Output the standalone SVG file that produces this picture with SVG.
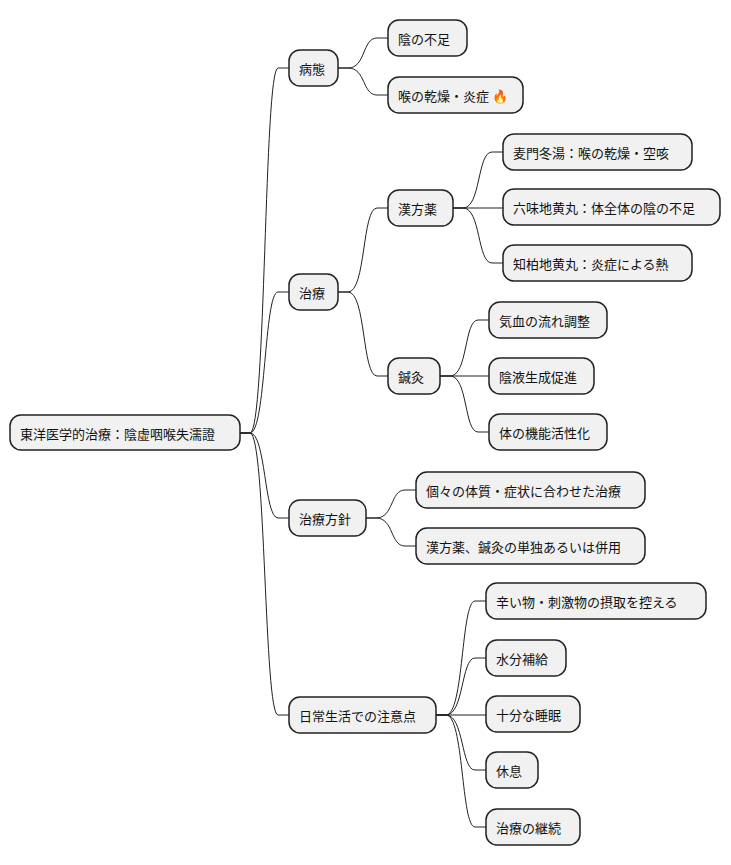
<svg xmlns="http://www.w3.org/2000/svg" width="731" height="865" viewBox="0 0 731 865">
<style>
rect{fill:#f1f1f1;stroke:#222;stroke-width:1.5}
text{font-family:"Noto Sans CJK JP","Noto Sans",sans-serif;font-size:13px;fill:#111;dominant-baseline:central}
#edges path{fill:none;stroke:#222;stroke-width:1}
</style>
<rect x="0" y="0" width="731" height="865" style="fill:#fff;stroke:none"/>
<g id="edges">
<path d="M240,433 H250 C266,433 264,68 278,68 H289"/>
<path d="M240,433 H250 C266,433 264,292 278,292 H289"/>
<path d="M240,433 H250 C266,433 264,518 278,518 H289"/>
<path d="M240,433 H250 C266,433 264,715 278,715 H289"/>
<path d="M338,68 H348 C366,68 362,38 377,38 H388"/>
<path d="M338,68 H348 C366,68 362,95 377,95 H388"/>
<path d="M338,292 H348 C366,292 362,208 377,208 H388"/>
<path d="M338,292 H348 C366,292 362,376 377,376 H388"/>
<path d="M453,208 H463 C481,208 477,152 492,152 H503"/>
<path d="M453,208 H503"/>
<path d="M453,208 H463 C481,208 477,263 492,263 H503"/>
<path d="M440,376 H450 C468,376 464,320 478,320 H489"/>
<path d="M440,376 H489"/>
<path d="M440,376 H450 C468,376 464,432 478,432 H489"/>
<path d="M366,518 H376 C394,518 390,490 405,490 H416"/>
<path d="M366,518 H376 C394,518 390,546 405,546 H416"/>
<path d="M436,715 H446 C464,715 461,601 475,601 H486"/>
<path d="M436,715 H446 C464,715 461,658 475,658 H486"/>
<path d="M436,715 H486"/>
<path d="M436,715 H446 C464,715 461,770 475,770 H486"/>
<path d="M436,715 H446 C464,715 461,827 475,827 H486"/>
</g>
<g id="root"><rect x="10" y="415" width="230" height="35" rx="11"/><text x="20" y="433">東洋医学的治療：陰虚咽喉失濡證</text></g>
<g id="n1"><rect x="289" y="50" width="49" height="36" rx="11"/><text x="299" y="68">病態</text></g>
<g id="n2"><rect x="289" y="274" width="49" height="36" rx="11"/><text x="299" y="292">治療</text></g>
<g id="n3"><rect x="289" y="500" width="77" height="36" rx="11"/><text x="299" y="518">治療方針</text></g>
<g id="n4"><rect x="289" y="697" width="147" height="36" rx="11"/><text x="299" y="715">日常生活での注意点</text></g>
<g id="n11"><rect x="388" y="20" width="79" height="36" rx="11"/><text x="398" y="38">陰の不足</text></g>
<g id="n12"><rect x="388" y="77" width="135" height="36" rx="11"/><text x="398" y="95">喉の乾燥・炎症 🔥</text></g>
<g id="n21"><rect x="388" y="190" width="65" height="36" rx="11"/><text x="398" y="208">漢方薬</text></g>
<g id="n22"><rect x="388" y="358" width="52" height="36" rx="11"/><text x="398" y="376">鍼灸</text></g>
<g id="n211"><rect x="503" y="134" width="189" height="36" rx="11"/><text x="513" y="152">麦門冬湯：喉の乾燥・空咳</text></g>
<g id="n212"><rect x="503" y="189" width="217" height="36" rx="11"/><text x="513" y="207">六味地黄丸：体全体の陰の不足</text></g>
<g id="n213"><rect x="503" y="245" width="189" height="36" rx="11"/><text x="513" y="263">知柏地黄丸：炎症による熱</text></g>
<g id="n221"><rect x="489" y="302" width="118" height="36" rx="11"/><text x="499" y="320">気血の流れ調整</text></g>
<g id="n222"><rect x="489" y="358" width="105" height="36" rx="11"/><text x="499" y="376">陰液生成促進</text></g>
<g id="n223"><rect x="489" y="414" width="118" height="36" rx="11"/><text x="499" y="432">体の機能活性化</text></g>
<g id="n31"><rect x="416" y="472" width="229" height="36" rx="11"/><text x="426" y="490">個々の体質・症状に合わせた治療</text></g>
<g id="n32"><rect x="416" y="528" width="229" height="36" rx="11"/><text x="426" y="546">漢方薬、鍼灸の単独あるいは併用</text></g>
<g id="n41"><rect x="486" y="583" width="220" height="36" rx="11"/><text x="496" y="601">辛い物・刺激物の摂取を控える</text></g>
<g id="n42"><rect x="486" y="640" width="80" height="36" rx="11"/><text x="496" y="658">水分補給</text></g>
<g id="n43"><rect x="486" y="696" width="94" height="36" rx="11"/><text x="496" y="714">十分な睡眠</text></g>
<g id="n44"><rect x="486" y="752" width="52" height="36" rx="11"/><text x="496" y="770">休息</text></g>
<g id="n45"><rect x="486" y="809" width="94" height="36" rx="11"/><text x="496" y="827">治療の継続</text></g>
</svg>
